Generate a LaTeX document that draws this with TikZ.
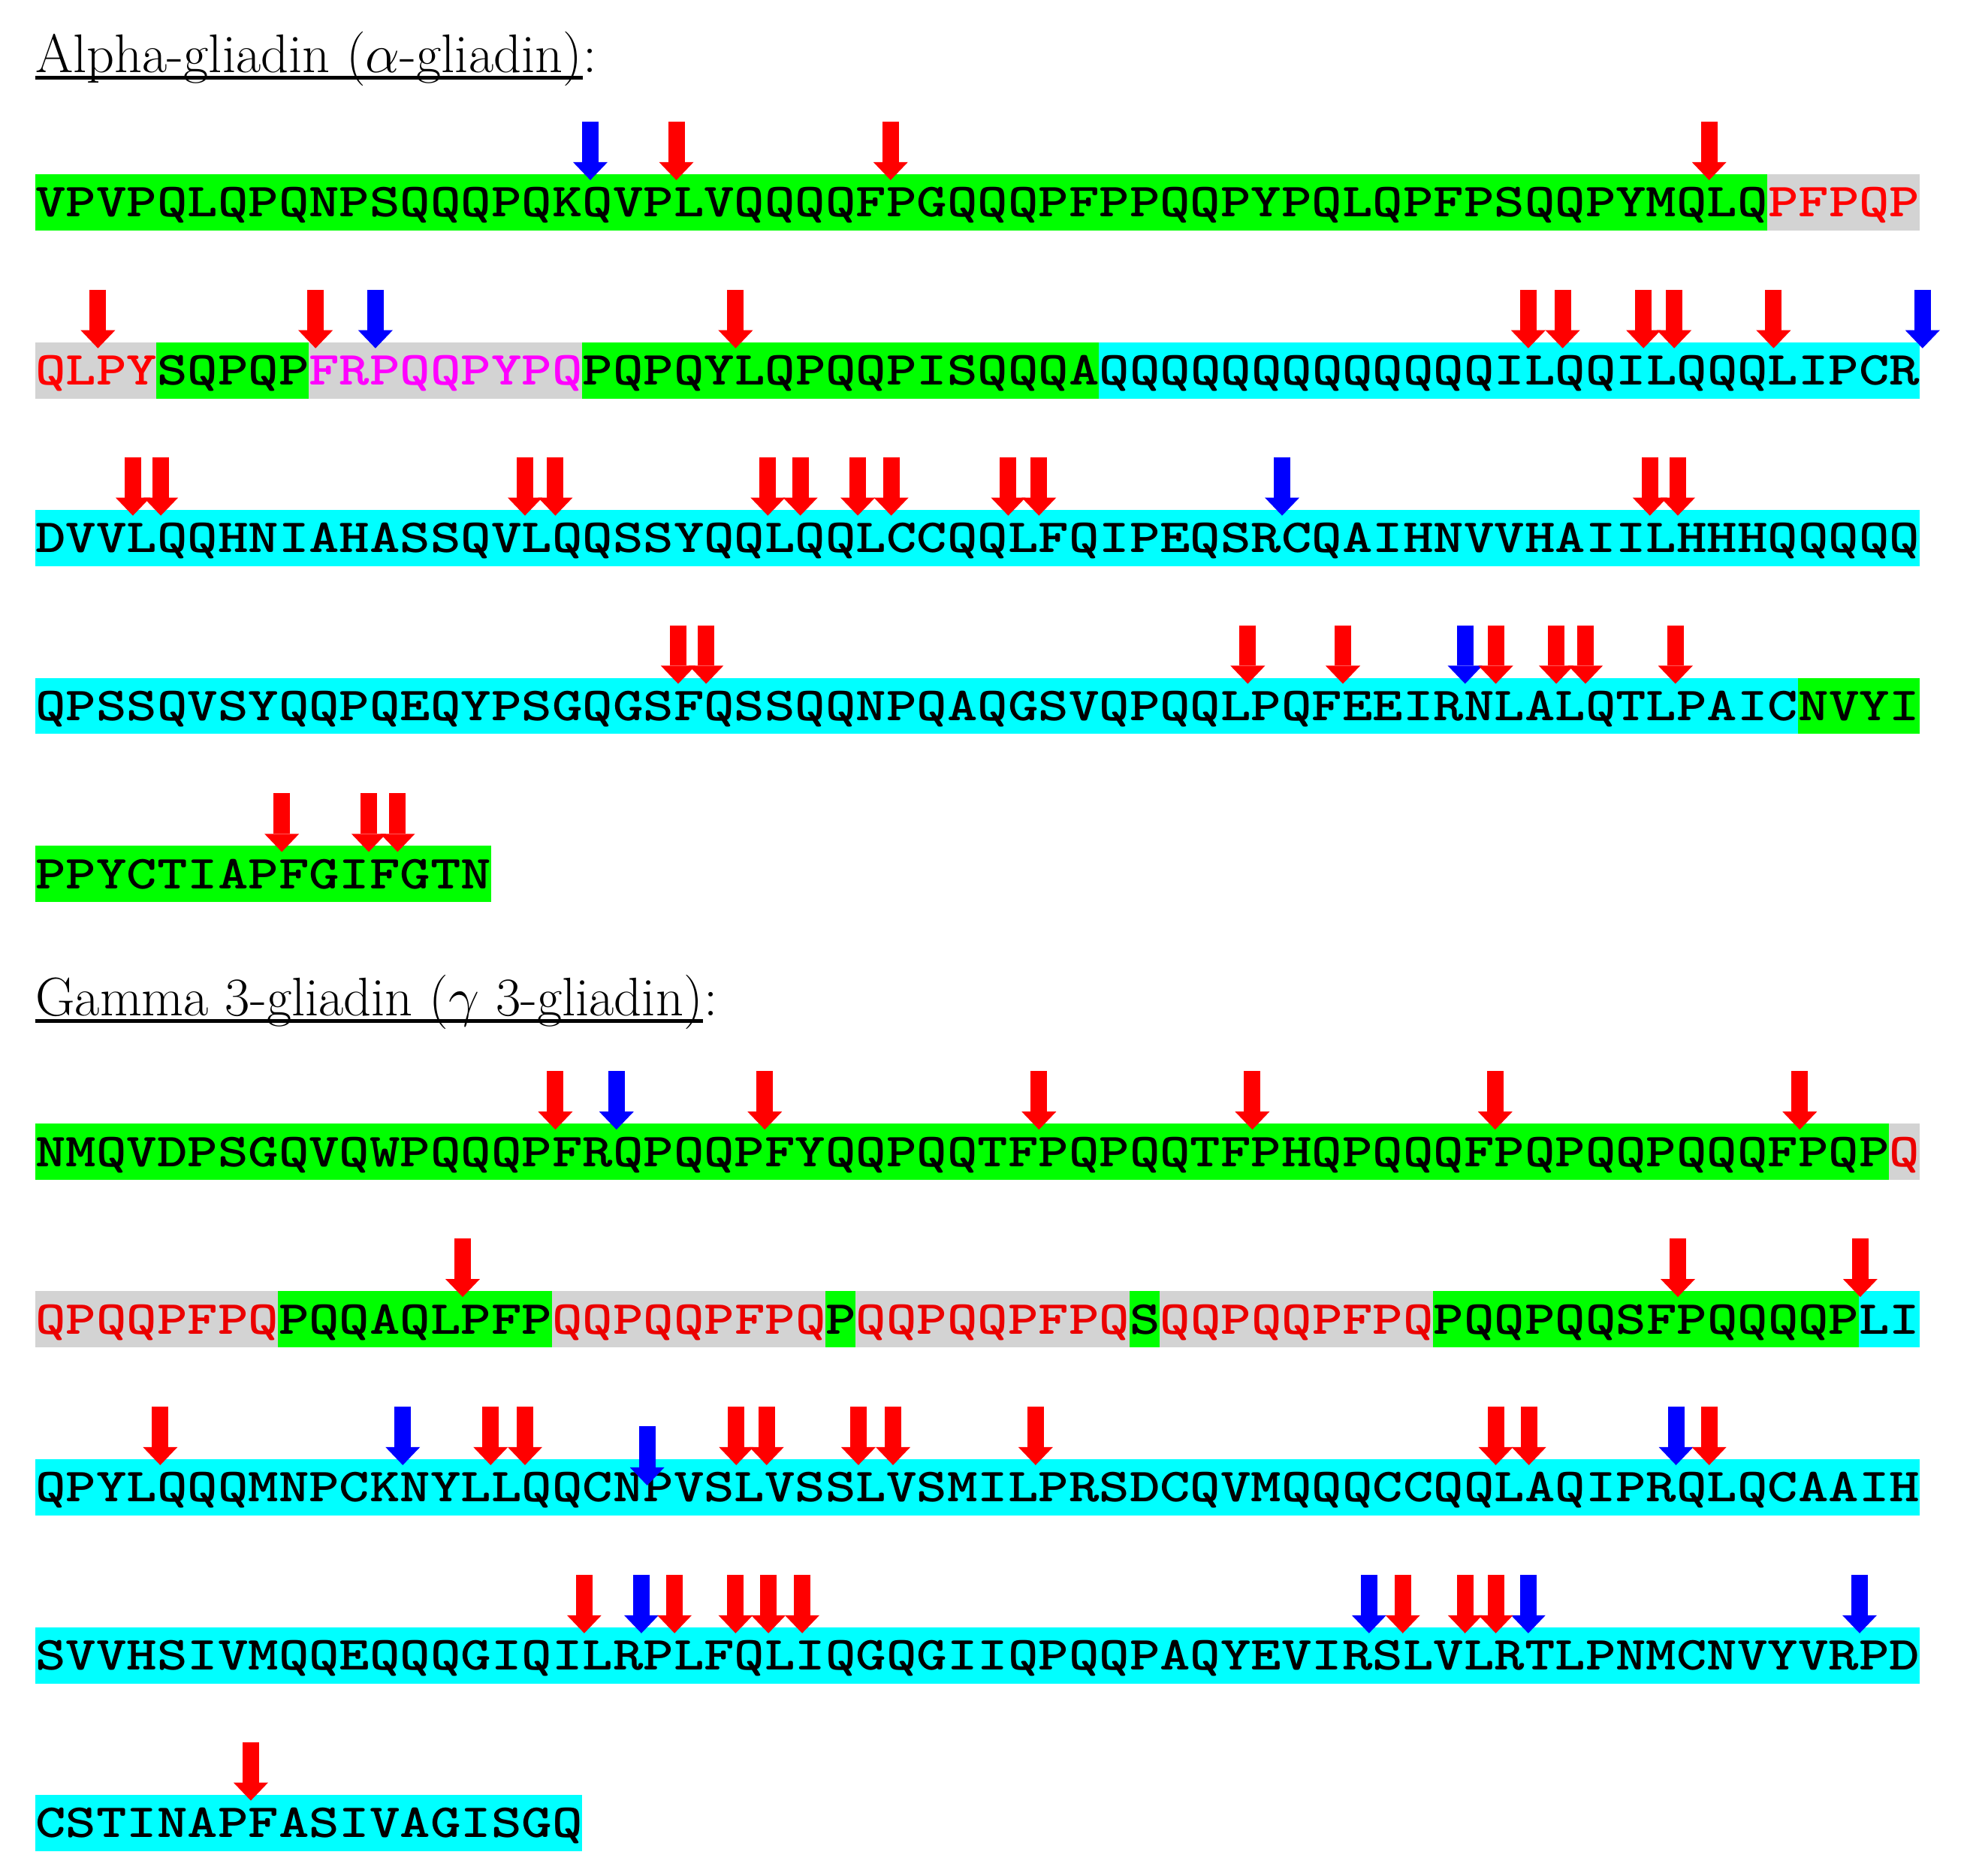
\documentclass[tikz,border=0pt]{standalone}
\usepackage{graphicx}
\usetikzlibrary{arrows.meta,positioning}

\definecolor{hlgreen}{RGB}{0,255,0}
\definecolor{hlcyan}{RGB}{0,255,255}
\definecolor{hlgray}{RGB}{211,211,211}
\definecolor{pepred}{RGB}{235,0,0}
\definecolor{pepmag}{RGB}{255,0,255}
\definecolor{cutred}{RGB}{255,0,0}
\definecolor{cutblue}{RGB}{0,0,255}

\newcommand{\seqfont}{\ttfamily\bfseries\fontsize{21.93}{24}\selectfont}
\newcommand{\res}[1]{\scalebox{1}[0.82]{#1}}

\tikzset{
  seq/.style={anchor=base west, inner sep=0pt, font=\seqfont},
  title/.style={anchor=base west, inner sep=0pt, font=\fontsize{20.6}{24}\selectfont},
  uline/.style={line width=0.05cm},
  redcut/.style={draw=cutred, line width=0.22cm,
    -{Triangle[width=0.46cm,length=0.24cm,line width=0pt]}},
  bluecut/.style={redcut, draw=cutblue},
}

\begin{document}
\begin{tikzpicture}[x=0.4047cm, y=-0.01cm]
    \useasboundingbox (-1.1515,0) rectangle (63.564,2499);

    % alpha-gliadin
    \node[title] (t1) at (0,97) {Alpha-gliadin ($\alpha$-gliadin)};
    \node[title] (t1c) at (t1.base east) {:};
    \draw[uline] ([yshift=-0.07cm]t1.base west) -- ([yshift=-0.07cm]t1.base east);

    \fill[hlgreen] (0,232) rectangle (57,307);
    \fill[hlgray] (57,232) rectangle (62,307);
    \node[seq] (a1) at (0,289) {\res{VPVPQLQPQNPSQQQPQKQVPLVQQQQFPGQQQPFPPQQPYPQLQPFPSQQPYMQLQ}};
    \node[seq, text=cutred] (a1x) at (57,289) {\res{PFPQP}};

    \fill[hlgray] (0,456) rectangle (4,531);
    \fill[hlgreen] (4,456) rectangle (9,531);
    \fill[hlgray] (9,456) rectangle (18,531);
    \fill[hlgreen] (18,456) rectangle (35,531);
    \fill[hlcyan] (35,456) rectangle (62,531);
    \node[seq, text=cutred] (a2) at (0,513) {\res{QLPY}};
    \node[seq] (a2b) at (4,513) {\res{SQPQP}};
    \node[seq, text=pepmag] (a2c) at (9,513) {\res{FRPQQPYPQ}};
    \node[seq] (a2d) at (18,513) {\res{PQPQYLQPQQPISQQQA}};
    \node[seq] (a2e) at (35,513) {\res{QQQQQQQQQQQQQILQQILQQQLIPCR}};

    \fill[hlcyan] (0,679) rectangle (62,754);
    \node[seq] (a3) at (0,736) {\res{DVVLQQHNIAHASSQVLQQSSYQQLQQLCCQQLFQIPEQSRCQAIHNVVHAIILHHHQQQQQ}};

    \fill[hlcyan] (0,903) rectangle (58,978);
    \fill[hlgreen] (58,903) rectangle (62,978);
    \node[seq] (a4) at (0,960) {\res{QPSSQVSYQQPQEQYPSGQGSFQSSQQNPQAQGSVQPQQLPQFEEIRNLALQTLPAIC}};
    \node[seq] (a4b) at (58,960) {\res{NVYI}};

    \fill[hlgreen] (0,1127) rectangle (15,1202);
    \node[seq] (a5) at (0,1184) {\res{PPYCTIAPFGIFGTN}};

    % gamma 3-gliadin
    \node[title] (t2) at (0,1353) {Gamma 3-gliadin ($\gamma$ 3-gliadin)};
    \node[title] (t2c) at (t2.base east) {:};
    \draw[uline] ([yshift=-0.07cm]t2.base west) -- ([yshift=-0.07cm]t2.base east);

    \fill[hlgreen] (0,1497) rectangle (61,1572);
    \fill[hlgray] (61,1497) rectangle (62,1572);
    \node[seq] (g1) at (0,1554) {\res{NMQVDPSGQVQWPQQQPFRQPQQPFYQQPQQTFPQPQQTFPHQPQQQFPQPQQPQQQFPQP}};
    \node[seq, text=pepred] (g1x) at (61,1554) {\res{Q}};

    \fill[hlgray] (0,1720) rectangle (8,1795);
    \fill[hlgreen] (8,1720) rectangle (17,1795);
    \fill[hlgray] (17,1720) rectangle (26,1795);
    \fill[hlgreen] (26,1720) rectangle (27,1795);
    \fill[hlgray] (27,1720) rectangle (36,1795);
    \fill[hlgreen] (36,1720) rectangle (37,1795);
    \fill[hlgray] (37,1720) rectangle (46,1795);
    \fill[hlgreen] (46,1720) rectangle (60,1795);
    \fill[hlcyan] (60,1720) rectangle (62,1795);
    \node[seq, text=pepred] (g2) at (0,1777) {\res{QPQQPFPQ}};
    \node[seq] (g2b) at (8,1777) {\res{PQQAQLPFP}};
    \node[seq, text=pepred] (g2c) at (17,1777) {\res{QQPQQPFPQ}};
    \node[seq] (g2d) at (26,1777) {\res{P}};
    \node[seq, text=pepred] (g2e) at (27,1777) {\res{QQPQQPFPQ}};
    \node[seq] (g2f) at (36,1777) {\res{S}};
    \node[seq, text=pepred] (g2g) at (37,1777) {\res{QQPQQPFPQ}};
    \node[seq] (g2h) at (46,1777) {\res{PQQPQQSFPQQQQP}};
    \node[seq] (g2i) at (60,1777) {\res{LI}};

    \fill[hlcyan] (0,1944) rectangle (62,2019);
    \node[seq] (g3) at (0,2001) {\res{QPYLQQQMNPCKNYLLQQCNPVSLVSSLVSMILPRSDCQVMQQQCCQQLAQIPRQLQCAAIH}};

    \fill[hlcyan] (0,2168) rectangle (62,2243);
    \node[seq] (g4) at (0,2225) {\res{SVVHSIVMQQEQQQGIQILRPLFQLIQGQGIIQPQQPAQYEVIRSLVLRTLPNMCNVYVRPD}};

    \fill[hlcyan] (0,2391) rectangle (18,2466);
    \node[seq] (g5) at (0,2448) {\res{CSTINAPFASIVAGISGQ}};

    % cleavage sites
    \draw[bluecut] (18.27,162) -- (18.27,240);
    \foreach \p in {21.10,28.15,55.08}
        \draw[redcut] (\p,162) -- (\p,240);

    \foreach \p in {11.2,62.1}
        \draw[bluecut] (\p,386) -- (\p,464);
    \foreach \p in {2.07,9.23,23.05,49.13,50.26,52.92,53.93,57.2}
        \draw[redcut] (\p,386) -- (\p,464);

    \draw[bluecut] (41.03,609) -- (41.03,687);
    \foreach \p in {3.22,4.14,16.12,17.12,24.11,25.18,27.07,28.17,32.02,33.03,53.13,54.05}
        \draw[redcut] (\p,609) -- (\p,687);

    \draw[bluecut] (47.05,833) -- (47.05,911);
    \foreach \p in {21.16,22.08,39.9,43.03,48.06,50.05,51.01,53.97}
        \draw[redcut] (\p,833) -- (\p,911);

    \foreach \p in {8.12,10.98,11.93}
        \draw[redcut] (\p,1057) -- (\p,1135);

    \draw[bluecut] (19.13,1427) -- (19.13,1505);
    \foreach \p in {17.12,24.01,33.03,40.05,48.04,58.06}
        \draw[redcut] (\p,1427) -- (\p,1505);

    \foreach \p in {14.07,54.05,60.05}
        \draw[redcut] (\p,1650) -- (\p,1728);

    \foreach \p in {12.1,53.99}
        \draw[bluecut] (\p,1874) -- (\p,1952);
    \draw[bluecut] (20.14,1900) -- (20.14,1979);
    \foreach \p in {4.12,14.99,16.12,23.07,24.07,27.09,28.23,32.92,48.06,49.15,55.08}
        \draw[redcut] (\p,1874) -- (\p,1952);

    \foreach \p in {19.95,43.89,49.13,60.03}
        \draw[bluecut] (\p,2098) -- (\p,2176);
    \foreach \p in {18.07,21.04,23.05,24.13,25.24,45.0,47.05,48.06}
        \draw[redcut] (\p,2098) -- (\p,2176);

    \draw[redcut] (7.1,2321) -- (7.1,2399);
\end{tikzpicture}
\end{document}
